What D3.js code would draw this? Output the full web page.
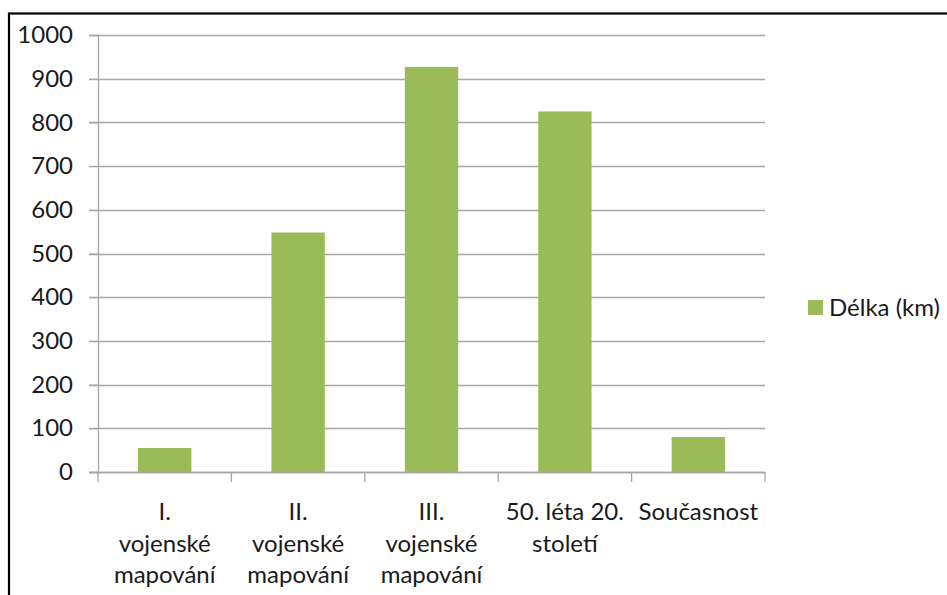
<!DOCTYPE html>
<html>
<head>
<meta charset="utf-8">
<script src="https://cdn.jsdelivr.net/npm/d3@7"></script>
<style>
  body { margin: 0; background: #fff; }
  svg text { font-family: Lato, "Open Sans", sans-serif; fill: #1a1a1a; }
</style>
</head>
<body>
<svg id="chart" width="947" height="595"></svg>
<script>
var categories = ["I.\nvojenské\nmapování", "II.\nvojenské\nmapování", "III.\nvojenské\nmapování", "50. léta 20.\nstoletí", "Současnost"];
var lengths = [55, 548, 927, 825, 80];
var yTicks = [0, 100, 200, 300, 400, 500, 600, 700, 800, 900, 1000];
var seriesName = "Délka (km)";

var barColor = "#9bbb59",
    gridColor = "#a6a6a6";

var margin = {left: 98, top: 35, right: 182, bottom: 123},
    width = 947 - margin.left - margin.right,
    height = 595 - margin.top - margin.bottom;

var svg = d3.select("#chart");

// chart frame (cut off on the right and bottom like the original)
svg.append("rect")
    .attr("x", 9).attr("y", 13.5)
    .attr("width", 1000).attr("height", 700)
    .attr("fill", "none")
    .attr("stroke", "#000")
    .attr("stroke-width", 2.2);

var g = svg.append("g")
    .attr("transform", "translate(" + margin.left + "," + margin.top + ")");

var x = d3.scaleBand()
    .domain(categories)
    .range([0, width])
    .paddingInner(0.6)
    .paddingOuter(0.3);

var y = d3.scaleLinear()
    .domain([0, 1000])
    .range([height, 0]);

// gridlines
g.selectAll(".grid")
    .data(yTicks)
    .enter().append("line")
    .attr("class", "grid")
    .attr("x1", -9).attr("x2", width)
    .attr("y1", function(d) { return Math.round(y(d)) + 0.5; })
    .attr("y2", function(d) { return Math.round(y(d)) + 0.5; })
    .attr("stroke", gridColor)
    .attr("stroke-width", 1.3);

// y axis
var yAxis = g.append("g")
    .call(d3.axisLeft(y).tickValues(yTicks).tickFormat(d3.format("d")).tickSize(9).tickPadding(16));
yAxis.select(".domain").attr("stroke", gridColor).attr("stroke-width", 1.3);
yAxis.selectAll(".tick line").attr("stroke", gridColor);
yAxis.selectAll("text")
    .style("font-size", "24px")
    .attr("fill", "#1a1a1a");

// bars
g.selectAll(".bar")
    .data(lengths)
    .enter().append("rect")
    .attr("class", "bar")
    .attr("x", function(d, i) { return x(categories[i]); })
    .attr("width", x.bandwidth())
    .attr("y", function(d) { return y(d); })
    .attr("height", function(d) { return height - y(d); })
    .attr("fill", barColor);

// x axis: ticks between categories
var boundaries = d3.range(categories.length + 1).map(function(i) { return i * width / categories.length; });
var xAxis = g.append("g").attr("transform", "translate(0," + height + ")");
xAxis.append("line")
    .attr("x1", -9).attr("x2", width)
    .attr("y1", 0.5).attr("y2", 0.5)
    .attr("stroke", gridColor).attr("stroke-width", 1.3);
xAxis.selectAll(".xtick")
    .data(boundaries)
    .enter().append("line")
    .attr("class", "xtick")
    .attr("x1", function(d) { return d; })
    .attr("x2", function(d) { return d; })
    .attr("y1", 0).attr("y2", 10)
    .attr("stroke", gridColor).attr("stroke-width", 1.3);

var labels = xAxis.selectAll(".xlabel")
    .data(categories)
    .enter().append("text")
    .attr("class", "xlabel")
    .attr("text-anchor", "middle")
    .style("font-size", "24px")
    .attr("transform", function(d) { return "translate(" + (x(d) + x.bandwidth() / 2) + ",48)"; });
labels.selectAll("tspan")
    .data(function(d) { return d.split("\n"); })
    .enter().append("tspan")
    .attr("x", 0)
    .attr("y", function(d, i) { return i * 31.5; })
    .text(function(d) { return d; });

// legend
var legend = svg.append("g").attr("transform", "translate(808,300)");
legend.append("rect")
    .attr("width", 15).attr("height", 15)
    .attr("fill", barColor);
legend.append("text")
    .attr("x", 21).attr("y", 16)
    .style("font-size", "24px")
    .text(seriesName);
</script>
</body>
</html>
